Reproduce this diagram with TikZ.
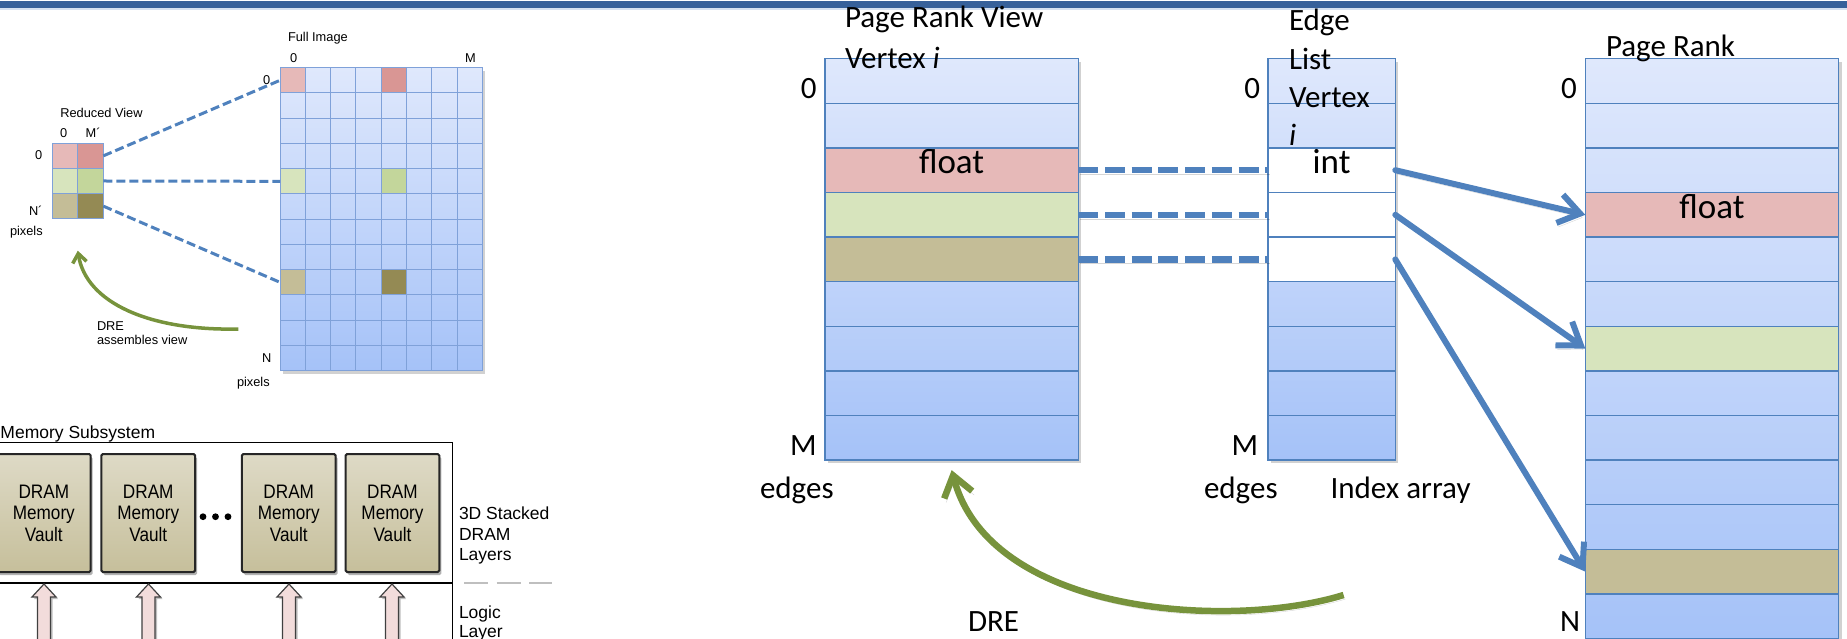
\documentclass[tikz,border=0pt]{standalone}
\usepackage{fontspec}
\setmainfont{Carlito}
\newfontfamily\arialfont{Liberation Sans}
\newfontfamily\narrowarial[FakeStretch=0.88]{Liberation Sans}
\usetikzlibrary{arrows.meta,shadows}

\definecolor{barblue}{HTML}{37619A}
\definecolor{barline}{HTML}{D5E1F0}
\definecolor{linkblue}{HTML}{4F81BD}
\definecolor{celltop}{HTML}{DFE8FC}
\definecolor{cellbot}{HTML}{A5C2F8}
\definecolor{gridline}{HTML}{7FA1D9}
\definecolor{pinkrow}{HTML}{E6B9B8}
\definecolor{pinkdark}{HTML}{D99694}
\definecolor{greenrow}{HTML}{D7E4BD}
\definecolor{greendark}{HTML}{C3D69B}
\definecolor{tanrow}{HTML}{C4BD97}
\definecolor{olive}{HTML}{948A54}
\definecolor{dregreen}{HTML}{77933C}
\definecolor{vaultlight}{HTML}{DEDAC6}
\definecolor{vaultdark}{HTML}{C6BF9B}
\definecolor{vaultedge}{HTML}{262626}
\definecolor{tsvpink}{HTML}{F2DCDB}

\newcommand\fsz[2]{\fontsize{#1}{#2}\selectfont}

\begin{document}
\begin{tikzpicture}[x=1pt,y=-1pt,
  lbl/.style={inner sep=0pt, outer sep=0pt, font=\fsz{31}{37}},
  big/.style={inner sep=0pt, outer sep=0pt, font=\fsz{35}{42}},
  sm/.style={inner sep=0pt, outer sep=0pt, font=\arialfont\fsz{12.8}{15}},
  mid/.style={inner sep=0pt, outer sep=0pt, font=\arialfont\fsz{17.5}{21}},
  softshadow/.style={drop shadow={shadow xshift=3pt, shadow yshift=-3pt, opacity=0.18, fill=black}},
  colbox/.style={draw=linkblue, line width=1.3pt, top color=celltop, bottom color=cellbot,
    inner sep=0pt, outer sep=0pt, anchor=north west, softshadow},
  rowcell/.style={draw=linkblue, line width=1.3pt, inner sep=0pt, outer sep=0pt,
    anchor=north west, minimum height=44.6pt},
  gridbox/.style={draw=gridline, line width=1pt, top color=celltop, bottom color=cellbot,
    inner sep=0pt, outer sep=0pt, anchor=north west, softshadow},
  gcell/.style={draw=gridline, line width=1pt, inner sep=0pt, outer sep=0pt, anchor=north west,
    minimum width=25.29pt, minimum height=25.25pt},
  rcell/.style={draw=gridline, line width=1pt, inner sep=0pt, outer sep=0pt, anchor=north west,
    minimum width=25.5pt, minimum height=25.13pt},
  liftshadow/.style={preaction={draw=black, opacity=0.16, transform canvas={xshift=2pt,yshift=-4pt}}},
  link/.style={draw=linkblue, line width=6pt, line cap=round, line join=round,
    -{Straight Barb[length=21pt,width=29pt]}, liftshadow},
  dlink/.style={draw=linkblue, line width=6.5pt, dash pattern=on 20pt off 6.7pt, liftshadow},
  sdlink/.style={draw=linkblue, line width=3pt, dash pattern=on 9pt off 4pt},
  dre/.style={draw=dregreen, line width=6.5pt, -{Straight Barb[length=20pt,width=29pt]}, liftshadow},
  dresmall/.style={draw=dregreen, line width=3.5pt, -{Straight Barb[length=9pt,width=14pt]}},
  vault/.style={draw=vaultedge, line width=2pt, rounded corners=1.5pt, top color=vaultlight,
    bottom color=vaultdark, inner sep=0pt, outer sep=0pt, anchor=north west,
    minimum width=93.7pt, minimum height=118pt, align=center,
    font=\narrowarial\fsz{19.5}{21.5}, drop shadow={shadow xshift=2pt, shadow yshift=-3pt, opacity=0.3, fill=black}},
  tsv/.style={draw=black!75, line width=1.2pt, fill=tsvpink, line join=miter,
    drop shadow={shadow xshift=2pt, shadow yshift=-2pt, opacity=0.25, fill=black}}
]
\useasboundingbox (0,0) rectangle (1847,639);
\clip (0,0) rectangle (1847,639);

% header band
\fill[barblue] (0,1) rectangle (1847,8.5);
\fill[barline] (0,8.5) rectangle (1847,10);

%% ---------- full image / reduced view ----------
\node[gridbox, minimum width=202.3pt, minimum height=303pt] (full) at (280,67.7) {};
\foreach \r in {0,...,11}
  \foreach \c in {0,...,7}
    \node[gcell] (g\r-\c) at ({280+25.29*\c},{67.7+25.25*\r}) {};
\foreach \r/\c/\col in {0/0/pinkrow,0/4/pinkdark,4/0/greenrow,4/4/greendark,8/0/tanrow,8/4/olive}
  \node[gcell, fill=\col] (hot\r-\c) at ({280+25.29*\c},{67.7+25.25*\r}) {};

\node[draw=gridline, line width=1pt, inner sep=0pt, outer sep=0pt, anchor=north west,
  minimum width=51pt, minimum height=75.4pt] (red) at (52.3,143.3) {};
\foreach \r/\c/\col in {0/0/pinkrow,0/1/pinkdark,1/0/greenrow,1/1/greendark,2/0/tanrow,2/1/olive}
  \node[rcell, fill=\col] (r\r-\c) at ({52.3+25.5*\c},{143.3+25.13*\r}) {};

\draw[sdlink] (r0-1.east) -- (hot0-0.west);
\draw[sdlink] (r1-1.east) -- (hot4-0.west);
\draw[sdlink] (r2-1.east) -- (hot8-0.west);

\node[sm, anchor=base west] (fullT) at (288,41.7) {Full Image};
\node[sm, anchor=base west] (fullC0) at (290,62.3) {0};
\node[sm, anchor=base west] (fullCM) at (465,62.3) {M};
\node[sm, anchor=base west] (fullR0) at (263,84.3) {0};
\node[sm, anchor=base west] (fullRN) at (262,362.3) {N};
\node[sm, anchor=base west] (fullPx) at (237,386) {pixels};
\node[sm, anchor=base west] (redT) at (60.3,117.7) {Reduced View};
\node[sm, anchor=base west] (redC0) at (60,137.3) {0};
\node[sm, anchor=base west] (redCM) at (85.7,137.3) {M´};
\node[sm, anchor=base west] (redR0) at (35,159.3) {0};
\node[sm, anchor=base west] (redRN) at (29,216) {N´};
\node[sm, anchor=base west] (redPx) at (10,235.3) {pixels};
\node[sm, anchor=base west] (dreLT1) at (97,330) {DRE};
\node[sm, anchor=base west] (dreLT2) at (97,344.3) {assembles view};

\coordinate (dreL) at (238.3,329);
\draw[dresmall] (dreL) .. controls (150,331) and (86,303) .. ([yshift=-32pt]red.south);

%% ---------- memory subsystem ----------
\node[mid, anchor=base west] (memT) at (0.5,438) {Memory Subsystem};
\draw[black, line width=1.3pt] (-5,442.7) -- (452.7,442.7) -- (452.7,650);
\draw[black, line width=1.3pt] (-5,583) -- (452.7,583);

\node[vault] (v1) at (-3,454) {DRAM\\Memory\\Vault};
\node[vault] (v2) at (101.4,454) {DRAM\\Memory\\Vault};
\node[vault] (v3) at (241.9,454) {DRAM\\Memory\\Vault};
\node[vault] (v4) at (345.6,454) {DRAM\\Memory\\Vault};

\foreach \dx in {203,215.5,228}
  \fill[black] (\dx,516.7) circle (3.4pt);

\foreach \cx in {44,148.5,289,392}
  \draw[tsv] ({\cx-6.5},660) -- ({\cx-6.5},597) -- ({\cx-12},597) -- (\cx,584)
             -- ({\cx+12},597) -- ({\cx+6.5},597) -- ({\cx+6.5},660) -- cycle;

\node[mid, anchor=base west] (stk1) at (459,519) {3D Stacked};
\node[mid, anchor=base west] (stk2) at (459,540) {DRAM};
\node[mid, anchor=base west] (stk3) at (459,560) {Layers};
\draw[black!25, line width=2.5pt, dash pattern=on 24pt off 8.5pt] (464,583) -- (552,583);
\node[mid, anchor=base west] (lg1) at (459,618) {Logic};
\node[mid, anchor=base west] (lg2) at (459,637) {Layer};

%% ---------- page rank view / edge list / page rank ----------
\node[colbox, minimum width=253.3pt, minimum height=401.4pt] (prv) at (825,58.7) {};
\foreach \i/\f in {0/none,1/none,2/pinkrow,3/greenrow,4/tanrow,5/none,6/none,7/none,8/none}
  \node[rowcell, minimum width=253.3pt, fill=\f] (prv\i) at (825,{58.7+44.6*\i}) {};

\node[colbox, minimum width=127.3pt, minimum height=401.4pt] (el) at (1268,58.7) {};
\foreach \i/\f in {0/none,1/none,2/white,3/white,4/white,5/none,6/none,7/none,8/none}
  \node[rowcell, minimum width=127.3pt, fill=\f] (el\i) at (1268,{58.7+44.6*\i}) {};

\node[colbox, minimum width=253.4pt, minimum height=579.8pt] (pr) at (1585.3,58.7) {};
\foreach \i/\f in {0/none,1/none,2/none,3/pinkrow,4/none,5/none,6/greenrow,7/none,8/none,9/none,10/none,11/tanrow,12/none}
  \node[rowcell, minimum width=253.4pt, fill=\f] (pr\i) at (1585.3,{58.7+44.6*\i}) {};

% edge slots to their vertices
\draw[dlink] (prv2.east) -- (el2.west);
\draw[dlink] (prv3.east) -- (el3.west);
\draw[dlink] (prv4.east) -- (el4.west);

\draw[link] (el2.east) -- (pr3.west);
\draw[link] (el3.east) -- (pr6.west);
\draw[link] (el4.east) -- (pr11.west);

\coordinate (dreR) at (1343.6,595);
\draw[dre] (dreR) .. controls (1230,630) and (990,615) .. ([yshift=-10pt]prv.south);

% labels
\node[lbl, anchor=base west] (prvT1) at (845,27.3) {Page Rank View};
\node[lbl, anchor=base west] (prvT2) at (845,68.3) {Vertex \textit{i}};
\node[lbl, anchor=base east] (prvZero) at (816.5,98.3) {0};
\node[lbl, anchor=base east] (prvM) at (816.5,455) {M};
\node[lbl, anchor=base west] (prvE) at (760,498.3) {edges};
\node[big, anchor=base] (prvF) at (951.6,173.3) {float};

\node[lbl, anchor=base west] (elT1) at (1289,30.5) {Edge};
\node[lbl, anchor=base west] (elT2) at (1289,69.5) {List};
\node[lbl, anchor=base west] (elT3) at (1289,108) {Vertex};
\node[lbl, anchor=base west] (elT4) at (1289,146) {\textit{i}};
\node[lbl, anchor=base east] (elZero) at (1260,98.3) {0};
\node[lbl, anchor=base east] (elM) at (1258,455) {M};
\node[lbl, anchor=base west] (elE) at (1204,498.3) {edges};
\node[lbl, anchor=base west] (idx) at (1330.6,498.3) {Index array};
\node[big, anchor=base] (elI) at (1331.6,173.3) {int};

\node[lbl, anchor=base west] (prT) at (1606,57) {Page Rank};
\node[lbl, anchor=base east] (prZero) at (1576.7,98.3) {0};
\node[lbl, anchor=base east] (prN) at (1580,631.7) {N};
\node[big, anchor=base] (prF) at (1712,218.3) {float};

\node[lbl, anchor=base west] (dreRT) at (968,631.7) {DRE};
\end{tikzpicture}
\end{document}
